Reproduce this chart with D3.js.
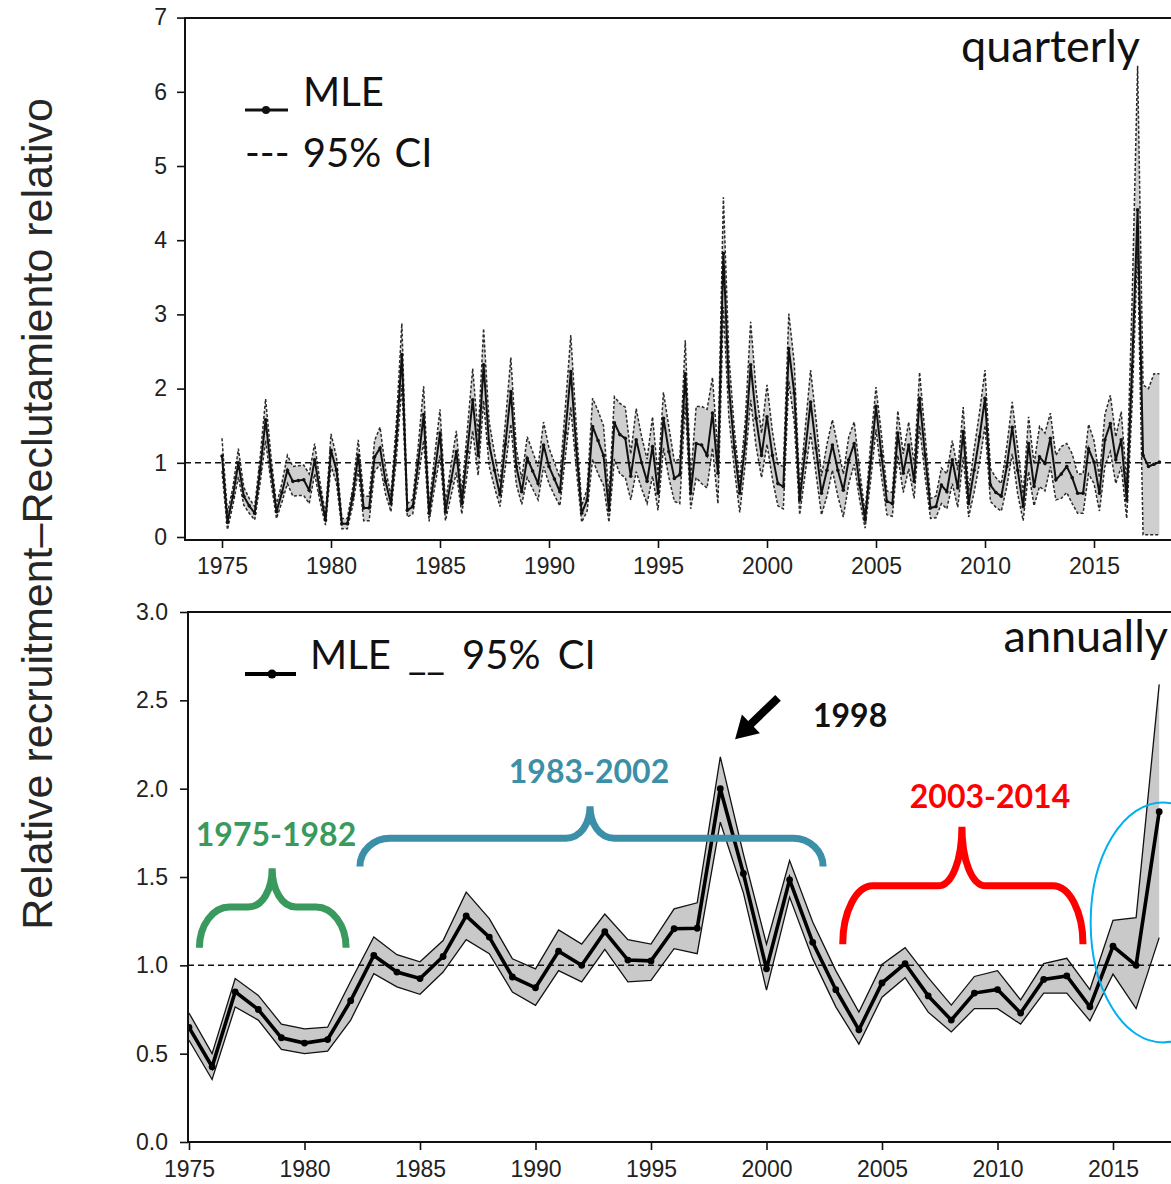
<!DOCTYPE html>
<html><head><meta charset="utf-8">
<script src="https://cdn.jsdelivr.net/npm/d3@7"></script>
<style>body{margin:0;background:#fff} svg{display:block}</style>
</head><body>
<svg id="chart" width="1171" height="1184"></svg>
<script>
// ---------- DATA ----------
const quarterStartYear = 1975;
const quarterlyMLE = [
1.09,0.20,0.55,1.00, 0.55,0.42,0.32,0.90, 1.58,0.90,0.34,0.60, 0.90,0.75,0.76,0.77,
0.63,1.04,0.60,0.23, 1.17,0.90,0.18,0.18, 0.55,1.10,0.39,0.39, 1.08,1.20,0.75,0.45,
1.30,2.46,0.36,0.41, 1.00,1.65,0.32,0.86, 1.40,0.34,0.75,1.15, 0.45,1.15,1.85,1.10,
2.32,1.26,0.90,0.57, 1.25,1.96,0.95,0.61, 1.06,0.89,0.72,1.24, 0.95,0.78,0.61,1.40,
2.23,1.20,0.32,0.50, 1.49,1.30,1.10,0.36, 1.54,1.38,1.33,0.82, 1.31,1.00,0.75,1.22,
0.59,1.60,1.15,0.79, 0.84,2.20,0.59,1.26, 1.24,1.10,1.67,0.86, 3.82,2.03,1.20,0.59,
1.26,2.32,1.60,1.10, 1.62,1.10,0.72,0.68, 2.54,1.94,0.50,1.15, 1.82,1.20,0.59,0.90,
1.24,0.90,0.63,1.04, 1.26,0.70,0.23,1.00, 1.76,1.10,0.48,0.45, 1.40,0.86,1.24,0.75,
1.87,1.10,0.39,0.41, 0.70,0.61,1.04,0.66, 1.42,0.45,0.90,1.35, 1.87,0.70,0.60,0.55,
0.95,1.48,0.90,0.41, 1.26,0.68,1.08,0.99, 1.33,0.77,0.85,0.95, 0.80,0.59,0.59,1.19,
1.01,0.59,1.31,1.53, 1.04,1.31,0.50,2.30, 4.41,1.10,0.95,0.98, 1.01];
const quarterlyLow = [
0.89,0.10,0.43,0.81, 0.43,0.32,0.23,0.73, 1.30,0.73,0.25,0.47, 0.72,0.55,0.56,0.56,
0.45,0.85,0.47,0.16, 0.96,0.73,0.11,0.11, 0.43,0.90,0.22,0.22, 0.88,0.98,0.58,0.34,
1.06,2.05,0.27,0.31, 0.78,1.30,0.21,0.66, 1.10,0.22,0.55,0.87, 0.31,0.87,1.43,0.83,
1.84,0.96,0.67,0.41, 0.95,1.52,0.71,0.44, 0.80,0.65,0.50,0.95, 0.72,0.56,0.42,1.08,
1.75,0.92,0.20,0.35, 1.05,0.85,0.70,0.20, 1.05,0.85,0.80,0.50, 0.88,0.65,0.45,0.82,
0.36,1.20,0.80,0.48, 0.45,1.80,0.38,0.80, 0.72,0.66,1.20,0.45, 3.10,1.62,0.92,0.33,
0.98,1.85,1.22,0.80, 1.25,0.78,0.42,0.38, 2.10,1.55,0.30,0.85, 1.40,0.85,0.30,0.55,
0.90,0.55,0.27,0.72, 0.98,0.50,0.12,0.75, 1.45,0.82,0.30,0.28, 1.10,0.60,0.92,0.52,
1.50,0.82,0.25,0.26, 0.45,0.38,0.72,0.40, 1.08,0.27,0.60,1.00, 1.50,0.48,0.40,0.35,
0.68,1.12,0.58,0.22, 0.88,0.42,0.68,0.62, 0.95,0.50,0.52,0.60, 0.45,0.32,0.32,0.85,
0.72,0.35,0.95,1.15, 0.72,0.95,0.25,1.80, 3.90,0.03,0.03,0.03, 0.03];
const quarterlyHigh = [
1.33,0.32,0.67,1.19, 0.67,0.52,0.41,1.08, 1.86,1.08,0.43,0.73, 1.10,0.95,0.96,0.97,
0.85,1.26,0.73,0.30, 1.39,1.08,0.25,0.25, 0.67,1.31,0.55,0.55, 1.30,1.48,0.92,0.56,
1.55,2.88,0.45,0.51, 1.22,2.03,0.43,1.08, 1.72,0.46,0.95,1.43, 0.59,1.43,2.27,1.37,
2.81,1.56,1.13,0.73, 1.55,2.42,1.19,0.78, 1.35,1.15,0.95,1.55, 1.20,1.00,0.80,1.75,
2.72,1.50,0.42,0.65, 1.87,1.70,1.50,0.55, 1.89,1.80,1.75,1.12, 1.73,1.35,1.05,1.62,
0.82,1.95,1.48,1.02, 1.05,2.65,0.78,1.76, 1.76,1.72,2.15,1.12, 4.58,2.45,1.45,0.75,
1.55,2.90,1.98,1.40, 2.05,1.42,0.98,0.95, 3.01,2.35,0.65,1.45, 2.25,1.58,0.82,1.25,
1.58,1.22,0.85,1.35, 1.55,0.90,0.32,1.25, 2.02,1.38,0.62,0.60, 1.70,1.12,1.55,0.98,
2.22,1.38,0.52,0.55, 0.93,0.85,1.30,0.90, 1.75,0.62,1.18,1.68, 2.25,0.92,0.80,0.72,
1.22,1.82,1.20,0.58, 1.62,0.98,1.49,1.40, 1.67,1.10,1.22,1.26, 1.12,0.85,0.85,1.52,
1.30,0.80,1.65,1.91, 1.35,1.69,0.72,3.20, 6.35,2.05,2.00,2.20, 2.20];

const annualYears = [1975,1976,1977,1978,1979,1980,1981,1982,1983,1984,1985,1986,1987,1988,1989,1990,
1991,1992,1993,1994,1995,1996,1997,1998,1999,2000,2001,2002,2003,2004,2005,2006,2007,2008,2009,2010,
2011,2012,2013,2014,2015,2016,2017];
const annualMLE = [0.648,0.426,0.85,0.75,0.59,0.56,0.58,0.80,1.056,0.962,0.925,1.05,1.28,1.16,0.934,0.873,
1.08,1.00,1.19,1.03,1.025,1.207,1.21,2.00,1.52,0.98,1.484,1.13,0.862,0.635,0.90,1.01,0.827,0.69,0.843,0.863,
0.73,0.92,0.94,0.765,1.108,1.00,1.87];
const annualLow = [0.576,0.354,0.765,0.69,0.524,0.50,0.514,0.69,0.953,0.878,0.836,0.962,1.145,1.066,0.849,0.774,
0.97,0.906,1.09,0.906,0.915,1.094,1.066,1.81,1.41,0.86,1.386,1.038,0.765,0.554,0.82,0.93,0.735,0.623,0.755,0.755,
0.667,0.843,0.843,0.686,0.95,0.755,1.157];
const annualHigh = [0.73,0.50,0.925,0.83,0.667,0.64,0.65,0.91,1.16,1.06,1.02,1.14,1.414,1.264,1.037,0.98,
1.20,1.12,1.29,1.145,1.12,1.32,1.354,2.18,1.63,1.12,1.593,1.245,0.97,0.736,1.005,1.10,0.93,0.775,0.937,0.97,
0.804,1.01,1.04,0.863,1.255,1.27,2.59];

const xTickYears = [1975,1980,1985,1990,1995,2000,2005,2010,2015];
const topYTicks = [0,1,2,3,4,5,6,7];
const bottomYTicks = [0,0.5,1,1.5,2,2.5,3];

const periods = [
  {label:"1975-1982", color:"#3a9a5e", x0:1975.45, x1:1981.8, xc:1978.6, yEnd:1.10, yBar:1.33, yTip:1.55},
  {label:"1983-2002", color:"#3b8fa6", x0:1982.4, x1:2002.45, xc:1992.36, yEnd:1.56, yBar:1.72, yTip:1.90},
  {label:"2003-2014", color:"#ff0000", x0:2003.3, x1:2013.7, xc:2008.46, yEnd:1.12, yBar:1.45, yTip:1.785}
];

// ---------- SETUP ----------
const svg = d3.select("#chart");
svg.append("rect").attr("width",1171).attr("height",1184).attr("fill","#fff");
const tickFont = "'Liberation Sans', Arial, Helvetica, sans-serif";
const noteFont = "Lato, 'Open Sans', sans-serif";

// y-axis title
svg.append("text")
  .attr("transform","translate(52,514) rotate(-90)")
  .attr("text-anchor","middle")
  .attr("font-family",tickFont).attr("font-size",43).attr("fill","#262626")
  .text("Relative recruitment\u2013Reclutamiento relativo");

// ---------- TOP (quarterly) ----------
const topL = 185, topT = 18, topB = 540, R = 1171;
const xT = d3.scaleLinear().domain([1975,2015]).range([222,1094]);
const yT = d3.scaleLinear().domain([0,7]).range([537,17.6]);
const qData = quarterlyMLE.map((v,i)=>({t: quarterStartYear + i/4, v, lo: quarterlyLow[i], hi: quarterlyHigh[i]}));

svg.append("clipPath").attr("id","clipTop").append("rect")
  .attr("x",topL).attr("y",topT).attr("width",R-topL+20).attr("height",topB-topT);
const gT = svg.append("g").attr("clip-path","url(#clipTop)");
gT.append("path").datum(qData)
  .attr("d", d3.area().x(d=>xT(d.t)).y0(d=>yT(d.lo)).y1(d=>yT(d.hi)))
  .attr("fill","#cfcfcf");
["lo","hi"].forEach(k=>{
  gT.append("path").datum(qData)
    .attr("d", d3.line().x(d=>xT(d.t)).y(d=>yT(d[k])))
    .attr("fill","none").attr("stroke","#2a2a2a").attr("stroke-width",1.5)
    .attr("stroke-dasharray","3,2");
});
gT.append("line").attr("x1",topL).attr("x2",R).attr("y1",yT(1)).attr("y2",yT(1))
  .attr("stroke","#111").attr("stroke-width",1.5).attr("stroke-dasharray","6,4");
gT.append("path").datum(qData)
  .attr("d", d3.line().x(d=>xT(d.t)).y(d=>yT(d.v)))
  .attr("fill","none").attr("stroke","#111").attr("stroke-width",2);
gT.selectAll("circle").data(qData).join("circle")
  .attr("cx",d=>xT(d.t)).attr("cy",d=>yT(d.v)).attr("r",1.8).attr("fill","#111");

// frame + axes
svg.append("path").attr("d",`M${R},${topT}H${topL}V${topB}H${R}`)
  .attr("fill","none").attr("stroke","#111").attr("stroke-width",2);
const axTB = svg.append("g").attr("transform",`translate(0,${topB})`)
  .call(d3.axisBottom(xT).tickValues(xTickYears).tickSize(8).tickPadding(10).tickFormat(d3.format("d")));
const axTL = svg.append("g").attr("transform",`translate(${topL},0)`)
  .call(d3.axisLeft(yT).tickValues(topYTicks).tickSize(8).tickPadding(10).tickFormat(d3.format("d")));
[axTB,axTL].forEach(a=>{
  a.select(".domain").remove();
  a.selectAll("line").attr("stroke","#111").attr("stroke-width",1.6);
  a.selectAll("text").attr("font-family",tickFont).attr("font-size",23).attr("fill","#222");
});

// top legend / labels
svg.append("line").attr("x1",245).attr("x2",288).attr("y1",110).attr("y2",110)
  .attr("stroke","#111").attr("stroke-width",3);
svg.append("circle").attr("cx",266).attr("cy",110).attr("r",4).attr("fill","#111");
svg.append("text").attr("x",303).attr("y",106).attr("font-family",noteFont).attr("font-size",40)
  .attr("fill","#111").text("MLE");
svg.append("text").attr("x",245).attr("y",167).attr("font-family",noteFont).attr("font-size",40)
  .attr("fill","#111").attr("word-spacing",3).text("--- 95% CI");
svg.append("text").attr("x",1140).attr("y",62).attr("text-anchor","end").attr("font-family",noteFont)
  .attr("font-size",45).attr("fill","#111").text("quarterly");

// ---------- BOTTOM (annual) ----------
const botL = 188, botT = 612, botB = 1142;
const xB = d3.scaleLinear().domain([1975,2015]).range([189,1113]);
const yB = d3.scaleLinear().domain([0,3]).range([1142,612]);
const aData = annualYears.map((y,i)=>({t:y, v:annualMLE[i], lo:annualLow[i], hi:annualHigh[i]}));

svg.append("clipPath").attr("id","clipBot").append("rect")
  .attr("x",botL).attr("y",botT).attr("width",R-botL+20).attr("height",botB-botT);
const gB = svg.append("g").attr("clip-path","url(#clipBot)");
gB.append("path").datum(aData)
  .attr("d", d3.area().x(d=>xB(d.t)).y0(d=>yB(d.lo)).y1(d=>yB(d.hi)))
  .attr("fill","#c9c9c9");
["lo","hi"].forEach(k=>{
  gB.append("path").datum(aData)
    .attr("d", d3.line().x(d=>xB(d.t)).y(d=>yB(d[k])))
    .attr("fill","none").attr("stroke","#111").attr("stroke-width",1.3);
});
gB.append("line").attr("x1",botL).attr("x2",R).attr("y1",yB(1)).attr("y2",yB(1))
  .attr("stroke","#111").attr("stroke-width",1.5).attr("stroke-dasharray","6,4");
gB.append("path").datum(aData)
  .attr("d", d3.line().x(d=>xB(d.t)).y(d=>yB(d.v)))
  .attr("fill","none").attr("stroke","#000").attr("stroke-width",3.6);
gB.selectAll("circle").data(aData).join("circle")
  .attr("cx",d=>xB(d.t)).attr("cy",d=>yB(d.v)).attr("r",3.4).attr("fill","#000");

svg.append("path").attr("d",`M${R},${botT}H${botL}V${botB}H${R}`)
  .attr("fill","none").attr("stroke","#111").attr("stroke-width",2);
const axBB = svg.append("g").attr("transform",`translate(0,${botB})`)
  .call(d3.axisBottom(xB).tickValues(xTickYears).tickSize(8).tickPadding(11).tickFormat(d3.format("d")));
const axBL = svg.append("g").attr("transform",`translate(${botL},0)`)
  .call(d3.axisLeft(yB).tickValues(bottomYTicks).tickSize(8).tickPadding(12).tickFormat(d3.format(".1f")));
[axBB,axBL].forEach(a=>{
  a.select(".domain").remove();
  a.selectAll("line").attr("stroke","#111").attr("stroke-width",1.6);
  a.selectAll("text").attr("font-family",tickFont).attr("font-size",23).attr("fill","#222");
});

// bottom legend / labels
svg.append("line").attr("x1",245).attr("x2",296).attr("y1",674).attr("y2",674)
  .attr("stroke","#000").attr("stroke-width",4);
svg.append("circle").attr("cx",272).attr("cy",674).attr("r",4.5).attr("fill","#000");
svg.append("text").attr("x",310).attr("y",669).attr("font-family",noteFont).attr("font-size",40)
  .attr("word-spacing",7).attr("fill","#111").text("MLE __ 95% CI");
svg.append("text").attr("x",1168).attr("y",652).attr("text-anchor","end").attr("font-family",noteFont)
  .attr("font-size",45).attr("fill","#111").text("annually");

// braces + period labels
periods.forEach(p=>{
  const x0=xB(p.x0), x1=xB(p.x1), xc=xB(p.xc), yE=yB(p.yEnd), yb=yB(p.yBar), yt=yB(p.yTip);
  const rx=30, rc=24;
  const d = `M${x0},${yE} C${x0},${yb+(yE-yb)*0.45} ${x0+rx*0.45},${yb} ${x0+rx},${yb}`+
    ` L${xc-rc},${yb} C${xc-rc*0.4},${yb} ${xc},${yb-(yb-yt)*0.45} ${xc},${yt}`+
    ` C${xc},${yb-(yb-yt)*0.45} ${xc+rc*0.4},${yb} ${xc+rc},${yb}`+
    ` L${x1-rx},${yb} C${x1-rx*0.45},${yb} ${x1},${yb+(yE-yb)*0.45} ${x1},${yE}`;
  svg.append("path").attr("d",d).attr("fill","none").attr("stroke",p.color).attr("stroke-width",7);
});
const labelPos = [{x:276,y:846},{x:589,y:783},{x:990,y:808}];
periods.forEach((p,i)=>{
  svg.append("text").attr("x",labelPos[i].x).attr("y",labelPos[i].y).attr("text-anchor","middle")
    .attr("font-family",noteFont).attr("font-weight","bold").attr("font-size",32)
    .attr("fill",p.color).text(p.label);
});
svg.append("text").attr("x",813).attr("y",727).attr("font-family",noteFont).attr("font-weight","bold")
  .attr("font-size",32).attr("fill","#111").text("1998");

// arrow toward 1998 peak
const tail=[xB(2000.5), yB(2.514)], head=[xB(1998.64), yB(2.28)];
const dx=head[0]-tail[0], dy=head[1]-tail[1], L=Math.hypot(dx,dy), ux=dx/L, uy=dy/L, nx=-uy, ny=ux;
const base=[head[0]-ux*22, head[1]-uy*22];
svg.append("line").attr("x1",tail[0]).attr("y1",tail[1]).attr("x2",base[0]+ux*2).attr("y2",base[1]+uy*2)
  .attr("stroke","#000").attr("stroke-width",8);
svg.append("polygon").attr("points",
  `${head[0]},${head[1]} ${base[0]+nx*13},${base[1]+ny*13} ${base[0]-nx*13},${base[1]-ny*13}`)
  .attr("fill","#000");

// highlight ellipse
svg.append("ellipse").attr("cx",xB(2017.15)).attr("cy",yB(1.243)).attr("rx",72).attr("ry",120)
  .attr("fill","none").attr("stroke","#00b0f0").attr("stroke-width",2);
</script>
</body></html>
